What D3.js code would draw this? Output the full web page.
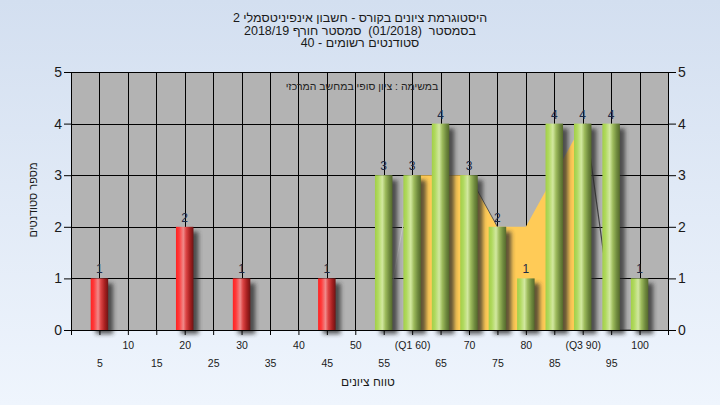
<!DOCTYPE html>
<html><head><meta charset="utf-8">
<script src="https://cdn.jsdelivr.net/npm/d3@7"></script>
<style>
body{margin:0;}
svg{display:block;font-family:"Liberation Sans",Arial,"DejaVu Sans",sans-serif;}
.pre{white-space:pre;}
</style>
</head><body>
<svg id="c" width="720" height="405"></svg>
<script>
// ---- data ----
const categories = ["5","10","15","20","25","30","35","40","45","50","55","60","65","70","75","80","85","90","95","100"];
const tickLabels = ["5","10","15","20","25","30","35","40","45","50","55","(Q1 60)","65","70","75","80","85","(Q3 90)","95","100"];
const counts     = [1,0,0,2,0,1,0,0,1,0,3,3,4,3,2,1,4,4,4,1];
const passMark = 55;
const areaCats = ["55","60","65","70","75","80","85","90","95","100"];
const areaVals = [0,3,3,3,2,2,3,4,0,0];
const yTicks = [0,1,2,3,4,5];
const titleLines = [
  "היסטוגרמת ציונים בקורס - חשבון אינפיניטסמלי 2",
  "בסמסטר  (01/2018)  סמסטר חורף 2018/19",
  "סטודנטים רשומים - 40"
];
const innerLabel = "במשימה : ציון סופי במחשב המרכזי";
const yTitle = "מספר סטודנטים";
const xTitle = "טווח ציונים";

// ---- layout ----
const L = 71, R = 668, T = 72, B = 330;
const svg = d3.select("#c");
const defs = svg.append("defs");

const bg = defs.append("linearGradient").attr("id","bg").attr("x1",0).attr("y1",0).attr("x2",0).attr("y2",1);
bg.append("stop").attr("offset","0%").attr("stop-color","#d3dff0");
bg.append("stop").attr("offset","100%").attr("stop-color","#eff5fd");

function barGrad(id, stops){
  const g = defs.append("linearGradient").attr("id",id).attr("x1",0).attr("y1",0).attr("x2",1).attr("y2",0);
  stops.forEach(s=>g.append("stop").attr("offset",s[0]).attr("stop-color",s[1]));
}
barGrad("red",[["0%","#ff2222"],["18%","#ff3a3a"],["42%","#f08a8a"],["58%","#dc4444"],["80%","#a82020"],["100%","#6e1414"]]);
barGrad("green",[["0%","#a2cf48"],["18%","#b0d95e"],["42%","#d2e8a0"],["60%","#9dbb5c"],["82%","#6f8a3e"],["100%","#55692c"]]);

const blur = defs.append("filter").attr("id","sh").attr("x","-50%").attr("y","-10%").attr("width","200%").attr("height","130%");
blur.append("feGaussianBlur").attr("stdDeviation",2.2);

svg.append("rect").attr("width",720).attr("height",405).attr("fill","url(#bg)");

const x = d3.scalePoint().domain(categories).range([L,R]).padding(1);
const y = d3.scaleLinear().domain([0,5]).range([B,T]);

// plot background
svg.append("rect").attr("x",L).attr("y",T).attr("width",R-L).attr("height",B-T).attr("fill","#b3b3b3");

// gridlines
const grid = svg.append("g").attr("stroke","#000").attr("stroke-width",1).attr("shape-rendering","crispEdges");
grid.selectAll(".gy").data(yTicks).join("line")
  .attr("x1",L).attr("x2",R).attr("y1",d=>Math.round(y(d))+0.5).attr("y2",d=>Math.round(y(d))+0.5);
grid.selectAll(".gx").data(categories).join("line")
  .attr("y1",T).attr("y2",B).attr("x1",d=>Math.round(x(d))+0.5).attr("x2",d=>Math.round(x(d))+0.5);

// area series (yellow)
const pts = areaCats.map((c,i)=>({c, v:areaVals[i]}));
const fillPts = pts.slice(1,8);
svg.append("path").datum(fillPts)
  .attr("fill","#ffcb57")
  .attr("d", d3.area().x(d=>x(d.c)).y0(y(0)).y1(d=>y(d.v)));
// area outline pieces
svg.append("path").datum(pts.slice(0,2))
  .attr("fill","none").attr("stroke","#c9c9c9").attr("stroke-width",1)
  .attr("d", d3.line().x(d=>x(d.c)).y(d=>y(d.v)));
svg.append("path").datum(pts.slice(3,5))
  .attr("fill","none").attr("stroke","#555").attr("stroke-width",1)
  .attr("d", d3.line().x(d=>x(d.c)).y(d=>y(d.v)));
svg.append("path").datum(pts.slice(7))
  .attr("fill","none").attr("stroke","#444").attr("stroke-width",1.2)
  .attr("d", d3.line().x(d=>x(d.c)+3).y(d=>y(d.v)));

// bars
const bw = 17.5;
const barData = categories.map((c,i)=>({c, v:counts[i]})).filter(d=>d.v>0);
const bars = svg.append("g");
bars.selectAll(".shadow").data(barData).join("rect")
  .attr("x",d=>x(d.c)-bw/2+5).attr("y",d=>y(d.v)+5)
  .attr("width",bw).attr("height",d=>y(0)-y(d.v)-1)
  .attr("fill","#2a2a2a").attr("opacity",0.75).attr("filter","url(#sh)");
bars.selectAll(".bar").data(barData).join("rect")
  .attr("x",d=>x(d.c)-bw/2).attr("y",d=>y(d.v))
  .attr("width",bw).attr("height",d=>y(0)-y(d.v))
  .attr("fill",d=>(+d.c<passMark)?"url(#red)":"url(#green)");
bars.selectAll(".lbl").data(barData).join("text")
  .attr("x",d=>x(d.c)).attr("y",d=>y(d.v)-5)
  .attr("text-anchor","middle").attr("font-size",12).attr("fill","#1d2a46")
  .text(d=>d.v);

// plot border
svg.append("rect").attr("x",L+0.5).attr("y",T+0.5).attr("width",R-L).attr("height",B-T)
  .attr("fill","none").attr("stroke","#000").attr("shape-rendering","crispEdges");

// left axis
const ax = svg.append("g").attr("transform",`translate(${L},0)`)
  .call(d3.axisLeft(y).tickValues(yTicks).tickSize(7).tickPadding(2).tickFormat(d3.format("d")));
ax.select(".domain").remove();
ax.selectAll("text").attr("font-size",14).attr("fill","#1a1a1a").attr("font-family",null);
ax.selectAll("line").attr("stroke","#000");
// right axis
const ar = svg.append("g").attr("transform",`translate(${R},0)`)
  .call(d3.axisRight(y).tickValues(yTicks).tickSize(8).tickPadding(2).tickFormat(d3.format("d")));
ar.select(".domain").remove();
ar.selectAll("text").attr("font-size",14).attr("fill","#1a1a1a").attr("font-family",null);
ar.selectAll("line").attr("stroke","#000");

// bottom axis
const ab = svg.append("g").attr("transform",`translate(0,${B})`)
  .call(d3.axisBottom(x).tickSize(5).tickFormat((d,i)=>tickLabels[i]));
ab.select(".domain").remove();
ab.selectAll("line").attr("stroke","#000");
ab.selectAll("text").attr("font-size",10.5).attr("fill","#1a1a1a").attr("font-family",null)
  .attr("dy",null)
  .attr("y",(d,i)=> i%2===1 ? 19 : 37);
// edge ticks
svg.append("g").selectAll("line").data(x.range()).join("line")
  .attr("x1",d=>d+0.5).attr("x2",d=>d+0.5).attr("y1",B).attr("y2",B+5).attr("stroke","#000");

// titles
svg.append("g").selectAll("text").data(titleLines).join("text")
  .attr("class","pre")
  .attr("x",360).attr("y",(d,i)=>22+i*12.5)
  .attr("text-anchor","middle").attr("direction","rtl").attr("font-size",12.5).attr("fill","#1a1a1a")
  .text(d=>d);
svg.append("text").attr("x",362).attr("y",90).attr("text-anchor","middle").attr("direction","rtl")
  .attr("font-size",10.5).attr("fill","#222").text(innerLabel);
svg.append("text").attr("transform","translate(37,200) rotate(-90)")
  .attr("text-anchor","middle").attr("direction","rtl").attr("font-size",11).attr("fill","#1a1a1a").text(yTitle);
svg.append("text").attr("x",368).attr("y",386).attr("text-anchor","middle").attr("direction","rtl")
  .attr("font-size",12).attr("fill","#1a1a1a").text(xTitle);
</script>
</body></html>
